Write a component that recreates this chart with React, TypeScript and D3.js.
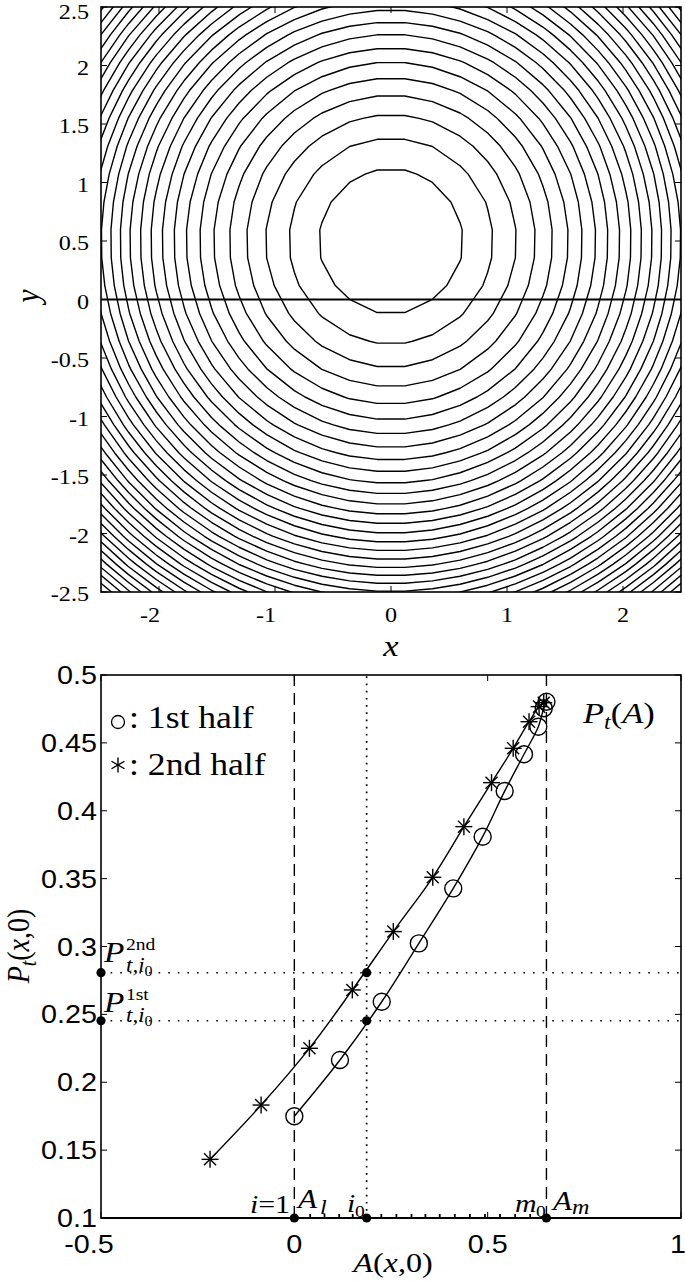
import React, { useEffect, useRef } from 'react';
import * as d3 from 'd3';

const W = 685;
const H = 1286;

// top panel: contour field centred at (0, 0.5), cut along y = 0
const FIELD_CENTER_X = 0;
const FIELD_CENTER_Y = 0.5;
const GRID_SAMPLES = 22;
const CONTOUR_LEVELS = [0.39, 0.78, 1.17, 1.56, 1.95, 2.34, 2.73, 3.12, 3.51, 3.9, 4.29, 4.68, 5.07,
  5.46, 5.85, 6.24, 6.63, 7.02, 7.41, 7.8, 8.19, 8.58, 8.97, 9.36, 9.75, 10.14, 10.53, 10.92, 11.31,
  11.7, 12.09, 12.48, 12.87, 13.26, 13.65, 14.04, 14.43, 14.82, 15.21];
const TOP_X_TICKS = [-2, -1, 0, 1, 2];
const TOP_Y_TICKS = [-2.5, -2, -1.5, -1, -0.5, 0, 0.5, 1, 1.5, 2, 2.5];

// bottom panel: P_t against A(x,0)
const HALF1_A = [0, 0.118, 0.226, 0.322, 0.411, 0.487, 0.544, 0.594, 0.631, 0.645, 0.652];
const HALF1_P = [0.175, 0.2164, 0.2593, 0.3023, 0.3428, 0.3809, 0.4145, 0.4416, 0.4619, 0.4755, 0.4803];
const HALF2_A = [-0.218, -0.086, 0.039, 0.15, 0.256, 0.358, 0.4385, 0.51, 0.566, 0.607, 0.633, 0.645];
const HALF2_P = [0.1432, 0.1832, 0.225, 0.268, 0.311, 0.351, 0.3883, 0.4207, 0.446, 0.4656, 0.4767, 0.4796];
const A_GRID = [0.041, 0.078, 0.116, 0.151, 0.225, 0.264, 0.303, 0.339, 0.376, 0.415, 0.454, 0.493,
  0.532, 0.571, 0.61];
const A_L = 0;
const A_I0 = 0.187;
const A_M = 0.652;
const P_1ST = 0.2453;
const P_2ND = 0.2807;
const BOT_X_TICKS = [-0.5, 0, 0.5, 1];
const BOT_Y_TICKS = [0.1, 0.15, 0.2, 0.25, 0.3, 0.35, 0.4, 0.45, 0.5];

const SX = 1.15; // glyphs in the figure are a bit wider than tall
const SERIF = 'Liberation Serif, Times New Roman, serif';
const SANS = 'Liberation Sans, Arial, sans-serif';

const App = () => {
  const ref = useRef<SVGSVGElement>(null);

  useEffect(() => {
    const svg = d3.select(ref.current);
    svg.selectAll('*').remove();

    const txt = (x: number, y: number, anchor = 'start', rot = false) =>
      svg.append('text')
        .attr('transform', `translate(${x},${y}) scale(${SX},1)` + (rot ? ' rotate(-90)' : ''))
        .attr('text-anchor', anchor)
        .attr('fill', '#000');

    // ---------------- top panel ----------------
    const tx = d3.scaleLinear().domain([-2.5, 2.5]).range([101, 681]);
    const ty = d3.scaleLinear().domain([-2.5, 2.5]).range([592, 7]);

    svg.append('clipPath').attr('id', 'topclip')
      .append('rect').attr('x', 101).attr('y', 7).attr('width', 580).attr('height', 585);

    const pad = 2;
    const step = 5 / (GRID_SAMPLES - 1);
    const n = GRID_SAMPLES + 2 * pad;
    const g0 = -2.5 - pad * step;
    const values: number[] = new Array(n * n);
    for (let j = 0; j < n; j++) {
      for (let i = 0; i < n; i++) {
        const gx = g0 + i * step;
        const gy = g0 + j * step;
        values[i + j * n] = (gx - FIELD_CENTER_X) ** 2 + (gy - FIELD_CENTER_Y) ** 2;
      }
    }
    const contours = d3.contours().size([n, n]).thresholds(CONTOUR_LEVELS)(values);
    const cx = (c: number) => tx(g0 + (c - 0.5) * step);
    const cy = (c: number) => ty(g0 + (c - 0.5) * step);
    let d = '';
    contours.forEach(mp => {
      mp.coordinates.forEach(poly => {
        poly.forEach(ring => {
          d += 'M' + ring.map(p => `${cx(p[0]).toFixed(2)},${cy(p[1]).toFixed(2)}`).join('L') + 'Z';
        });
      });
    });
    svg.append('path').attr('d', d).attr('fill', 'none').attr('stroke', '#000')
      .attr('stroke-width', 1.4).attr('stroke-linejoin', 'round').attr('clip-path', 'url(#topclip)');

    svg.append('line').attr('x1', tx(-2.5)).attr('x2', tx(2.5)).attr('y1', ty(0)).attr('y2', ty(0))
      .attr('stroke', '#000').attr('stroke-width', 1.8);

    svg.append('rect').attr('x', 101).attr('y', 7).attr('width', 580).attr('height', 585)
      .attr('fill', 'none').attr('stroke', '#000').attr('stroke-width', 1.6);

    TOP_X_TICKS.forEach(v => {
      svg.append('line').attr('x1', tx(v)).attr('x2', tx(v)).attr('y1', 592).attr('y2', 586)
        .attr('stroke', '#000');
      svg.append('line').attr('x1', tx(v)).attr('x2', tx(v)).attr('y1', 7).attr('y2', 13)
        .attr('stroke', '#000');
      const neg = v < 0;
      txt(neg ? tx(v) + 1 : tx(v), 622, neg ? 'end' : 'middle')
        .attr('font-family', SERIF).attr('font-size', 21).text(String(v));
    });
    TOP_Y_TICKS.forEach(v => {
      svg.append('line').attr('x1', 101).attr('x2', 107).attr('y1', ty(v)).attr('y2', ty(v))
        .attr('stroke', '#000');
      svg.append('line').attr('x1', 681).attr('x2', 675).attr('y1', ty(v)).attr('y2', ty(v))
        .attr('stroke', '#000');
      txt(89, Math.max(ty(v), 10) + 9, 'end')
        .attr('font-family', SERIF).attr('font-size', 21).text(String(v));
    });
    txt(391, 656, 'middle').attr('font-family', SERIF).attr('font-size', 30)
      .attr('font-style', 'italic').text('x');
    txt(39, 296, 'middle', true).attr('font-family', SERIF).attr('font-size', 30)
      .attr('font-style', 'italic').text('y');

    // ---------------- bottom panel ----------------
    const bx = d3.scaleLinear().domain([-0.5, 1]).range([101, 681]);
    const by = d3.scaleLinear().domain([0.1, 0.5]).range([1218, 675]);

    // guide lines
    [A_L, A_M].forEach(a => {
      svg.append('line').attr('x1', bx(a)).attr('x2', bx(a)).attr('y1', by(0.1)).attr('y2', by(0.5))
        .attr('stroke', '#000').attr('stroke-width', 1.4).attr('stroke-dasharray', '12 7');
    });
    svg.append('line').attr('x1', bx(A_I0)).attr('x2', bx(A_I0)).attr('y1', by(0.1)).attr('y2', by(0.5))
      .attr('stroke', '#000').attr('stroke-width', 1.7).attr('stroke-dasharray', '1.7 5.5');
    [P_1ST, P_2ND].forEach(p => {
      svg.append('line').attr('x1', bx(-0.5)).attr('x2', bx(1)).attr('y1', by(p)).attr('y2', by(p))
        .attr('stroke', '#000').attr('stroke-width', 1.6).attr('stroke-dasharray', '1.6 8');
    });

    // curves
    const line = d3.line<[number, number]>()
      .x(p => bx(p[0])).y(p => by(p[1]))
      .curve(d3.curveCatmullRom.alpha(0.5));
    const s1 = HALF1_A.map((a, i) => [a, HALF1_P[i]] as [number, number]);
    const s2 = HALF2_A.map((a, i) => [a, HALF2_P[i]] as [number, number]);
    [s1, s2].forEach(s => {
      svg.append('path').attr('d', line(s)).attr('fill', 'none').attr('stroke', '#000')
        .attr('stroke-width', 1.4);
    });

    s1.forEach(p => {
      svg.append('circle').attr('cx', bx(p[0])).attr('cy', by(p[1])).attr('r', 8.5)
        .attr('fill', 'none').attr('stroke', '#000').attr('stroke-width', 1.4);
    });
    const star = (x: number, y: number, r: number, arms: number[]) => {
      arms.forEach(deg => {
        const t = (deg * Math.PI) / 180;
        svg.append('line')
          .attr('x1', x - r * Math.cos(t)).attr('y1', y - r * Math.sin(t))
          .attr('x2', x + r * Math.cos(t)).attr('y2', y + r * Math.sin(t))
          .attr('stroke', '#000').attr('stroke-width', 1.4);
      });
    };
    s2.forEach(p => star(bx(p[0]), by(p[1]), 8.5, [0, 45, 90, 135]));

    // axis sample marks between i=1 and m0
    A_GRID.forEach(a => {
      svg.append('line').attr('x1', bx(a)).attr('x2', bx(a)).attr('y1', by(0.1) - 4).attr('y2', by(0.1) + 1)
        .attr('stroke', '#000').attr('stroke-width', 1.8);
    });

    svg.append('rect').attr('x', 101).attr('y', 675).attr('width', 580).attr('height', 543)
      .attr('fill', 'none').attr('stroke', '#000').attr('stroke-width', 1.6);
    svg.append('line').attr('x1', 101).attr('x2', 681).attr('y1', by(0.1)).attr('y2', by(0.1))
      .attr('stroke', '#000').attr('stroke-width', 2.2);

    // key points
    const dots: [number, number][] = [
      [-0.5, P_2ND], [-0.5, P_1ST], [A_I0, P_2ND], [A_I0, P_1ST],
      [A_L, 0.1], [A_I0, 0.1], [A_M, 0.1],
    ];
    dots.forEach(p => {
      svg.append('circle').attr('cx', bx(p[0])).attr('cy', by(p[1])).attr('r', 4.6).attr('fill', '#000');
    });

    BOT_X_TICKS.forEach(v => {
      svg.append('line').attr('x1', bx(v)).attr('x2', bx(v)).attr('y1', 1218).attr('y2', 1212)
        .attr('stroke', '#000');
      svg.append('line').attr('x1', bx(v)).attr('x2', bx(v)).attr('y1', 675).attr('y2', 681)
        .attr('stroke', '#000');
      const xl = v < 0 ? bx(v) - 12 : v >= 1 ? bx(v) - 3 : bx(v);
      txt(xl, 1253, 'middle')
        .attr('font-family', SANS).attr('font-size', 25).text(String(v));
    });
    BOT_Y_TICKS.forEach(v => {
      svg.append('line').attr('x1', 101).attr('x2', 107).attr('y1', by(v)).attr('y2', by(v))
        .attr('stroke', '#000');
      svg.append('line').attr('x1', 681).attr('x2', 675).attr('y1', by(v)).attr('y2', by(v))
        .attr('stroke', '#000');
      txt(97, by(v) + 9, 'end')
        .attr('font-family', SANS).attr('font-size', 25).text(String(v));
    });

    // legend
    svg.append('circle').attr('cx', 118).attr('cy', 722).attr('r', 6.5)
      .attr('fill', 'none').attr('stroke', '#000').attr('stroke-width', 1.3);
    txt(129, 728).attr('font-family', SERIF).attr('font-size', 31).text(': 1st half');
    star(118, 765, 7.5, [90, 30, 150]);
    txt(129, 775).attr('font-family', SERIF).attr('font-size', 31).text(': 2nd half');

    // P_t(A)
    const pt = txt(583, 723).attr('font-family', SERIF).attr('font-size', 30);
    pt.append('tspan').attr('font-style', 'italic').text('P');
    pt.append('tspan').attr('font-style', 'italic').attr('font-size', 21).attr('dy', 6).text('t');
    pt.append('tspan').attr('dy', -6).text('(');
    pt.append('tspan').attr('font-style', 'italic').text('A');
    pt.append('tspan').text(')');

    // P labels on left axis
    const pLabel = (y: number, sup: string) => {
      txt(104, y).attr('font-family', SERIF).attr('font-size', 29).attr('font-style', 'italic').text('P');
      txt(126, y - 12).attr('font-family', SERIF).attr('font-size', 17).text(sup);
      const sub = txt(126, y + 10).attr('font-family', SERIF).attr('font-size', 20);
      sub.append('tspan').attr('font-style', 'italic').text('t,i');
      sub.append('tspan').attr('font-size', 14).attr('dy', 4).text('0');
    };
    pLabel(962, '2nd');
    pLabel(1012, '1st');

    // bottom annotations
    const i1 = txt(290, 1213, 'end').attr('font-family', SERIF).attr('font-size', 26);
    i1.append('tspan').attr('font-style', 'italic').text('i');
    i1.append('tspan').text('=1');
    txt(298, 1208).attr('font-family', SERIF).attr('font-size', 27).attr('font-style', 'italic').text('A');
    txt(320, 1214).attr('font-family', SERIF).attr('font-size', 21).attr('font-style', 'italic').text('l');
    txt(347, 1212).attr('font-family', SERIF).attr('font-size', 26).attr('font-style', 'italic').text('i');
    txt(355, 1217).attr('font-family', SERIF).attr('font-size', 17).text('0');
    txt(515, 1212).attr('font-family', SERIF).attr('font-size', 26).attr('font-style', 'italic').text('m');
    txt(536, 1217).attr('font-family', SERIF).attr('font-size', 17).text('0');
    txt(553, 1210).attr('font-family', SERIF).attr('font-size', 27).attr('font-style', 'italic').text('A');
    txt(572, 1214).attr('font-family', SERIF).attr('font-size', 21).attr('font-style', 'italic').text('m');

    // axis labels
    const ax = txt(393, 1272, 'middle').attr('font-family', SERIF).attr('font-size', 28);
    ax.append('tspan').attr('font-style', 'italic').text('A');
    ax.append('tspan').text('(');
    ax.append('tspan').attr('font-style', 'italic').text('x');
    ax.append('tspan').text(',0)');

    const ay = txt(29, 946, 'middle', true).attr('font-family', SERIF).attr('font-size', 28);
    ay.append('tspan').attr('font-style', 'italic').text('P');
    ay.append('tspan').attr('font-style', 'italic').attr('font-size', 20).attr('dy', 6).text('t');
    ay.append('tspan').attr('dy', -6).text('(');
    ay.append('tspan').attr('font-style', 'italic').text('x');
    ay.append('tspan').text(',0)');
  }, []);

  return (
    <svg ref={ref} width={W} height={H}
      style={{ position: 'absolute', left: 0, top: 0, background: '#fff' }} />
  );
};

export default App;
